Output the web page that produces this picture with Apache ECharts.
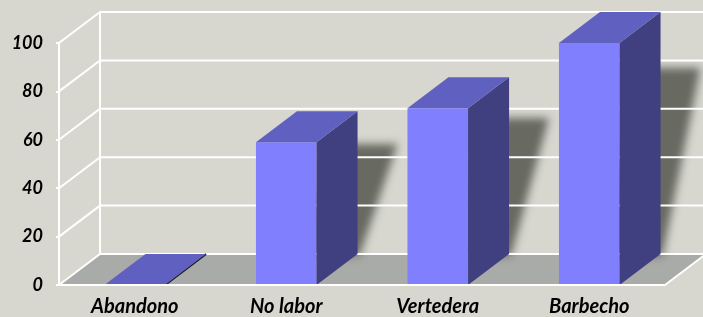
<!DOCTYPE html>
<html>
<head>
<meta charset="UTF-8">
<title>Columnas 3D</title>
<script type="text/javascript" src="https://cdn.jsdelivr.net/npm/echarts@6/dist/echarts.min.js"></script>
<style>
html,body{margin:0;padding:0;background:#D7D7CF;}
</style>
</head>
<body>
<div id="main" style="width:703px;height:317px;"></div>

<script type="text/javascript">
// datos
var categories = ['Abandono', 'No labor', 'Vertedera', 'Barbecho'];
var values = [0, 59, 73, 100];
var yTicks = [0, 20, 40, 60, 80, 100];

// profundidad de la perspectiva (px)
var DX = 41, DY = -31;

var mychart = echarts.init(document.getElementById('main'));

var labelFont = {
    color: '#000',
    fontStyle: 'italic',
    fontWeight: 'bold',
    fontFamily: 'Lato'
};

// suelo + linea derecha
function renderFloor(params, api) {
    var cs = params.coordSys;
    var p0 = api.coord([0, 0]);
    var yb = p0[1];
    var xl = cs.x, xr = cs.x + cs.width;
    return {
        type: 'group',
        children: [{
            type: 'polygon',
            shape: { points: [[xl, yb], [xr, yb], [xr + DX, yb + DY], [xl + DX, yb + DY]] },
            style: { fill: '#A9ABA8' }
        }, {
            type: 'line',
            shape: { x1: xr, y1: yb, x2: xr + DX, y2: yb + DY },
            style: { stroke: '#fff', lineWidth: 2 }
        }]
    };
}

// lineas de la pared
function renderWall(params, api) {
    var cs = params.coordSys;
    var p = api.coord([0, api.value(1)]);
    var y = p[1];
    var xl = cs.x;
    var children = [{
        type: 'polyline',
        shape: { points: [[xl, y], [xl + DX, y + DY], [xl + cs.width + DX, y + DY]] },
        style: { stroke: '#fff', lineWidth: 2, fill: null }
    }];
    if (params.dataIndex === 0) {
        var top = api.coord([0, yTicks[yTicks.length - 1]]);
        children.push({
            type: 'line',
            shape: { x1: xl + DX, y1: y + DY, x2: xl + DX, y2: top[1] + DY },
            style: { stroke: '#fff', lineWidth: 2 }
        });
    }
    return { type: 'group', children: children };
}

// sombra difusa en la pared (solo se ve la sombra del poligono, desplazado fuera)
var OFF = 2000;
function renderShadow(params, api) {
    var top = api.coord([api.value(0), api.value(1)]);
    var base = api.coord([api.value(0), 0]);
    var w = api.size([1, 0])[0] * 0.4;
    var h = base[1] - top[1];
    if (h < 1) return null;
    var bx0 = top[0] - w / 2 + DX, bx1 = top[0] + w / 2 + DX;
    var by = top[1] + DY, bb = base[1] + DY;
    var sy = by + h * 0.23;
    var pts = [[bx0 + 40, sy], [bx1 + 40, sy], [bx1 + 2, bb + 2], [bx0, bb + 2]];
    return {
        type: 'polygon',
        shape: { points: pts.map(function (p) { return [p[0] - OFF, p[1]]; }) },
        style: {
            fill: '#000',
            shadowBlur: 9,
            shadowOffsetX: OFF,
            shadowColor: 'rgba(104,106,98,1)'
        }
    };
}

// columnas
function renderBar(params, api) {
    var top = api.coord([api.value(0), api.value(1)]);
    var base = api.coord([api.value(0), 0]);
    var w = api.size([1, 0])[0] * 0.4;
    var x0 = top[0] - w / 2, x1 = top[0] + w / 2;
    var h = base[1] - top[1];
    return {
        type: 'group',
        children: [{
            type: 'rect',
            shape: { x: x0, y: top[1], width: w, height: h },
            style: { fill: '#8080FF' }
        }, {
            type: 'polygon',
            shape: { points: [[x1, top[1]], [x1 + DX, top[1] + DY], [x1 + DX, base[1] + DY], [x1, base[1]]] },
            style: h < 1 ? { fill: '#111', stroke: '#111', lineWidth: 2 } : { fill: '#404080' }
        }, {
            type: 'polygon',
            shape: { points: [[x0, top[1]], [x1, top[1]], [x1 + DX, top[1] + DY], [x0 + DX, top[1] + DY]] },
            style: { fill: '#6060C0' }
        }]
    };
}

var option = {
    backgroundColor: '#D7D7CF',
    animation: false,
    grid: { left: 59, right: 38, top: 43, bottom: 31 },
    xAxis: {
        type: 'category',
        data: categories,
        z: 10,
        axisLine: { lineStyle: { color: '#fff', width: 2 } },
        axisTick: { lineStyle: { color: '#fff', width: 2 }, length: 5 },
        axisLabel: Object.assign({ margin: 12, fontSize: 20 }, labelFont)
    },
    yAxis: {
        type: 'value',
        min: 0,
        max: 100,
        interval: 20,
        z: 10,
        axisLine: { show: true, lineStyle: { color: '#fff', width: 2 } },
        axisTick: { show: true, length: 3, lineStyle: { color: '#fff', width: 2 } },
        splitLine: { show: false },
        axisLabel: Object.assign({ margin: 16, fontSize: 18 }, labelFont)
    },
    series: [{
        type: 'custom',
        renderItem: renderFloor,
        data: [[0, 0]],
        clip: false,
        z: 1
    }, {
        type: 'custom',
        renderItem: renderShadow,
        data: values.map(function (v, i) { return [i, v]; }),
        clip: false,
        z: 2
    }, {
        type: 'custom',
        renderItem: renderWall,
        data: yTicks.map(function (v) { return [0, v]; }),
        clip: false,
        z: 3
    }, {
        type: 'custom',
        renderItem: renderBar,
        data: values.map(function (v, i) { return [i, v]; }),
        clip: false,
        z: 4
    }]
};

mychart.setOption(option);
</script>
</body>
</html>
